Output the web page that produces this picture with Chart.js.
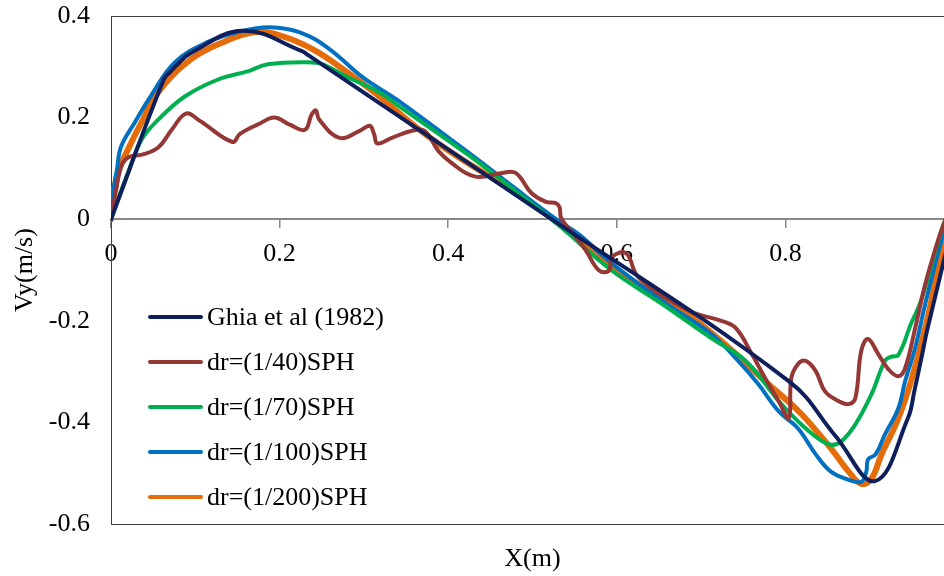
<!DOCTYPE html>
<html lang="en">
<head>
<meta charset="utf-8">
<title>Vy along the horizontal centreline</title>
<script src="https://cdn.jsdelivr.net/npm/chart.js@4.4.1/dist/chart.umd.min.js"></script>
<style>
  html, body { margin: 0; padding: 0; background: #fff; overflow: hidden; }
  .wrap { position: relative; width: 960px; height: 576px; }
  #legend {
    position: absolute; left: 148px; top: 294px;
    font-family: "Liberation Serif", "Times New Roman", serif;
    font-size: 26px; color: #000;
  }
  #legend .row { height: 45.2px; display: flex; align-items: center; white-space: nowrap; }
  #legend .sw { display: inline-block; width: 55px; height: 4px; border-radius: 2px; margin-right: 4px; }
</style>
</head>
<body>
<div class="wrap">
  <canvas id="chart" width="960" height="576"></canvas>
  <div id="legend"></div>
</div>
<script>
// tick positions
const xTicks = [0, 0.2, 0.4, 0.6, 0.8];
const yTicks = [-0.6, -0.4, -0.2, 0, 0.2, 0.4];

// Ghia et al (1982), Re = 1000, v along y = 0.5
const ghiaX = [0, 0.0625, 0.0703, 0.0781, 0.0938, 0.1563, 0.2266, 0.2344, 0.5, 0.8047, 0.8594, 0.9063, 0.9453, 0.9531, 0.9609, 0.9688, 1];
const ghiaV = [0, 0.27485, 0.29012, 0.30353, 0.32627, 0.37095, 0.33075, 0.32235, 0.02526, -0.31966, -0.42665, -0.5155, -0.39188, -0.33714, -0.27669, -0.21388, 0];

// SPH, dr = 1/40
const dr40X = [0, 0.006, 0.013, 0.022, 0.037, 0.056, 0.072, 0.089, 0.105, 0.144, 0.153, 0.176, 0.194, 0.212, 0.230, 0.238, 0.243, 0.247, 0.271, 0.295, 0.307, 0.312, 0.316, 0.333, 0.357, 0.372, 0.389, 0.407, 0.421, 0.437, 0.464, 0.480, 0.499, 0.516, 0.527, 0.532, 0.534, 0.545, 0.563, 0.579, 0.591, 0.594, 0.611, 0.626, 0.685, 0.724, 0.741, 0.760, 0.776, 0.792, 0.804, 0.807, 0.815, 0.824, 0.836, 0.847, 0.863, 0.875, 0.883, 0.890, 0.898, 0.910, 0.922, 0.934, 0.942, 0.954, 0.966, 0.981, 0.990];
const dr40V = [0, 0.057, 0.107, 0.123, 0.127, 0.141, 0.176, 0.208, 0.194, 0.152, 0.168, 0.188, 0.200, 0.186, 0.176, 0.206, 0.214, 0.196, 0.160, 0.174, 0.184, 0.168, 0.149, 0.160, 0.174, 0.174, 0.133, 0.107, 0.091, 0.083, 0.091, 0.091, 0.051, 0.034, 0.032, 0.024, 0.002, -0.022, -0.061, -0.101, -0.101, -0.075, -0.067, -0.115, -0.180, -0.200, -0.214, -0.265, -0.313, -0.358, -0.392, -0.313, -0.285, -0.279, -0.299, -0.339, -0.358, -0.364, -0.352, -0.259, -0.236, -0.265, -0.295, -0.309, -0.293, -0.214, -0.127, -0.042, 0];

// SPH, dr = 1/70
const dr70X = [0, 0.006, 0.020, 0.036, 0.056, 0.088, 0.127, 0.162, 0.186, 0.233, 0.251, 0.279, 0.318, 0.342, 0.425, 0.484, 0.531, 0.594, 0.653, 0.712, 0.753, 0.792, 0.815, 0.839, 0.854, 0.866, 0.883, 0.902, 0.918, 0.925, 0.934, 0.949, 0.961, 0.985, 0.990];
const dr70V = [0, 0.028, 0.091, 0.156, 0.196, 0.242, 0.275, 0.291, 0.305, 0.309, 0.305, 0.281, 0.250, 0.222, 0.125, 0.050, -0.012, -0.101, -0.166, -0.234, -0.279, -0.358, -0.398, -0.432, -0.444, -0.438, -0.404, -0.345, -0.279, -0.271, -0.267, -0.206, -0.160, -0.022, 0];

// SPH, dr = 1/100
const dr100X = [0, 0.002, 0.007, 0.012, 0.028, 0.047, 0.076, 0.115, 0.154, 0.188, 0.224, 0.259, 0.298, 0.330, 0.342, 0.378, 0.437, 0.476, 0.528, 0.555, 0.594, 0.653, 0.712, 0.744, 0.768, 0.792, 0.815, 0.836, 0.854, 0.875, 0.890, 0.896, 0.898, 0.907, 0.918, 0.934, 0.942, 0.954, 0.966, 0.985, 0.993];
const dr100V = [0, 0.048, 0.097, 0.143, 0.190, 0.242, 0.309, 0.349, 0.370, 0.378, 0.368, 0.335, 0.280, 0.245, 0.232, 0.188, 0.115, 0.065, 0, -0.030, -0.087, -0.160, -0.226, -0.279, -0.325, -0.378, -0.412, -0.463, -0.497, -0.513, -0.517, -0.497, -0.473, -0.463, -0.424, -0.372, -0.319, -0.253, -0.166, -0.042, 0];

// SPH, dr = 1/200
const dr200X = [0, 0.001, 0.008, 0.020, 0.036, 0.056, 0.095, 0.135, 0.170, 0.200, 0.239, 0.279, 0.318, 0.366, 0.417, 0.476, 0.543, 0.594, 0.673, 0.733, 0.772, 0.812, 0.827, 0.854, 0.875, 0.890, 0.902, 0.914, 0.934, 0.949, 0.966, 0.985, 0.995];
const dr200V = [0, 0.028, 0.091, 0.137, 0.190, 0.250, 0.315, 0.350, 0.368, 0.362, 0.335, 0.291, 0.242, 0.176, 0.117, 0.057, -0.022, -0.095, -0.174, -0.253, -0.313, -0.372, -0.398, -0.451, -0.497, -0.521, -0.511, -0.463, -0.392, -0.319, -0.214, -0.067, 0];

const seriesNames = ['Ghia et al (1982)', 'dr=(1/40)SPH', 'dr=(1/70)SPH', 'dr=(1/100)SPH', 'dr=(1/200)SPH'];
const seriesColors = ['#0f1f5c', '#953735', '#00b050', '#0070c0', '#e46c0a'];
const seriesX = [ghiaX, dr40X, dr70X, dr100X, dr200X];
const seriesV = [ghiaV, dr40V, dr70V, dr100V, dr200V];
const lineWidths = [4, 4, 4, 4, 6];

const serif = { family: '"Liberation Serif", "Times New Roman", serif', size: 26 };

const datasets = seriesNames.map((name, i) => ({
  label: name,
  data: seriesX[i].map((x, k) => ({ x: x, y: seriesV[i][k] })),
  borderColor: seriesColors[i],
  backgroundColor: seriesColors[i],
  borderWidth: lineWidths[i],
  xAxisID: 'x',
  yAxisID: 'y'
}));

// dark border round the plot area
const plotFrame = {
  id: 'plotFrame',
  beforeDatasetsDraw(chart) {
    const { ctx, chartArea: a } = chart;
    ctx.save();
    ctx.strokeStyle = '#404040';
    ctx.lineWidth = 1;
    ctx.strokeRect(Math.round(a.left) + 0.5, Math.round(a.top) + 0.5,
      Math.round(a.right - a.left), Math.round(a.bottom - a.top));
    ctx.restore();
  }
};

// no extra room for labels hanging past the plot edges
const noOverhang = s => { s.paddingTop = 0; s.paddingBottom = 0; s.paddingLeft = 0; s.paddingRight = 0; };

new Chart(document.getElementById('chart'), {
  type: 'line',
  data: { datasets: datasets },
  options: {
    responsive: false,
    animation: false,
    layout: { padding: { top: 16, right: 6, left: 0, bottom: 0 } },
    plugins: { legend: { display: false }, tooltip: { enabled: false } },
    elements: {
      point: { radius: 0 },
      line: { tension: 0.4, borderCapStyle: 'round', borderJoinStyle: 'round' }
    },
    scales: {
      // horizontal axis crossing at Vy = 0
      x: {
        type: 'linear', min: 0, max: 1,
        position: { y: 0 },
        afterBuildTicks: s => { s.ticks = xTicks.map(v => ({ value: v })); },
        afterFit: noOverhang,
        ticks: { font: serif, color: '#000', padding: 11, maxRotation: 0, autoSkip: false,
                 callback: v => String(v) },
        grid: { drawOnChartArea: false, drawTicks: true, tickLength: 8, color: '#888', lineWidth: 1.5 },
        border: { color: '#888', width: 2 }
      },
      // carries the X(m) title under the plot
      xt: {
        type: 'linear', position: 'bottom', min: 0, max: 1,
        ticks: { display: false },
        grid: { display: false, drawTicks: false },
        border: { display: false },
        title: { display: true, text: 'X(m)', font: serif, color: '#000', padding: { top: 0, bottom: 1 } },
        afterFit: s => { noOverhang(s); s.height = 52; }
      },
      y: {
        type: 'linear', min: -0.6, max: 0.4,
        afterBuildTicks: s => { s.ticks = yTicks.map(v => ({ value: v })); },
        ticks: { font: serif, color: '#000', padding: 21, callback: v => String(v) },
        grid: { display: false, drawTicks: false },
        border: { display: false },
        title: { display: true, text: 'Vy(m/s)', font: serif, color: '#000', padding: { top: 10, bottom: 0 } },
        afterFit: s => { noOverhang(s); s.width = 111; }
      }
    }
  },
  plugins: [plotFrame]
});

// legend box inside the plot
const legend = document.getElementById('legend');
seriesNames.forEach((name, i) => {
  const row = document.createElement('div');
  row.className = 'row';
  const sw = document.createElement('span');
  sw.className = 'sw';
  sw.style.background = seriesColors[i];
  row.appendChild(sw);
  row.appendChild(document.createTextNode(name));
  legend.appendChild(row);
});
</script>
</body>
</html>
